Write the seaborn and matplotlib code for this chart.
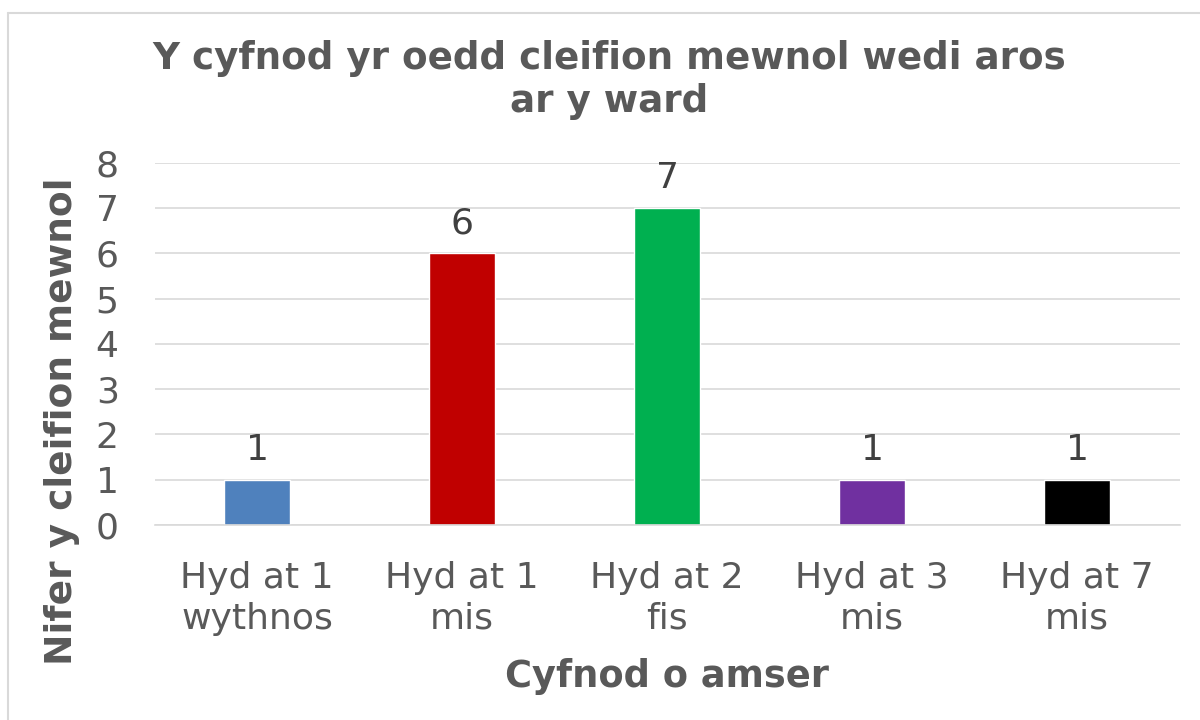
import matplotlib
matplotlib.use("Agg")
import matplotlib.pyplot as plt
from matplotlib.lines import Line2D
import seaborn as sns
import pandas as pd

categories = ["Hyd at 1\nwythnos", "Hyd at 1\nmis", "Hyd at 2\nfis", "Hyd at 3\nmis", "Hyd at 7\nmis"]
values = [1, 6, 7, 1, 1]
colors = ["#4F81BD", "#C00000", "#00B050", "#7030A0", "#000000"]
yticks = [0, 1, 2, 3, 4, 5, 6, 7, 8]

sns.set_theme(style="white")
plt.rcParams['font.family'] = ['DejaVu Sans']

df = pd.DataFrame({"cat": categories, "val": values})
fig = plt.figure(figsize=(12, 7.2), dpi=100)
ax = fig.add_axes([0.129, 0.271, 0.854, 0.503])
sns.barplot(data=df, x="cat", y="val", hue="cat", palette=colors, legend=False,
            width=0.32, ax=ax, saturation=1)
ax.set_ylim(0, 8)
ax.set_yticks(yticks)
ax.yaxis.grid(True, color="#D9D9D9", linewidth=1.2)
ax.set_axisbelow(True)
for s in ["top", "right", "left"]:
    ax.spines[s].set_visible(False)
ax.spines["bottom"].set_color("#D9D9D9")
ax.spines["bottom"].set_linewidth(1.2)
ax.tick_params(axis="both", labelsize=26, labelcolor="#595959", length=0)
ax.tick_params(axis="x", pad=26)
ax.tick_params(axis="y", pad=26)
for lab in ax.get_xticklabels():
    lab.set_linespacing(1.25)
for c in ax.containers:
    ax.bar_label(c, fontsize=26, color="#404040", padding=9)
ax.set_xlabel("Cyfnod o amser", fontsize=26.5, fontweight="bold", color="#595959", labelpad=16)
ax.set_ylabel("Nifer y cleifion mewnol", fontsize=27, fontweight="bold", color="#595959")
ax.yaxis.set_label_coords(-0.073, 0.287)
fig.text(0.508, 0.889, "Y cyfnod yr oedd cleifion mewnol wedi aros\nar y ward", ha="center", va="center",
         fontsize=26.8, fontweight="bold", color="#595959", linespacing=1.2)
fig.add_artist(Line2D([8/1200, 8/1200], [0, 1 - 13/720], transform=fig.transFigure,
                      color="#D9D9D9", linewidth=1.5))
fig.add_artist(Line2D([8/1200, 1], [1 - 13/720, 1 - 13/720], transform=fig.transFigure,
                      color="#D9D9D9", linewidth=1.5))
fig.savefig("out.png", dpi=100)
